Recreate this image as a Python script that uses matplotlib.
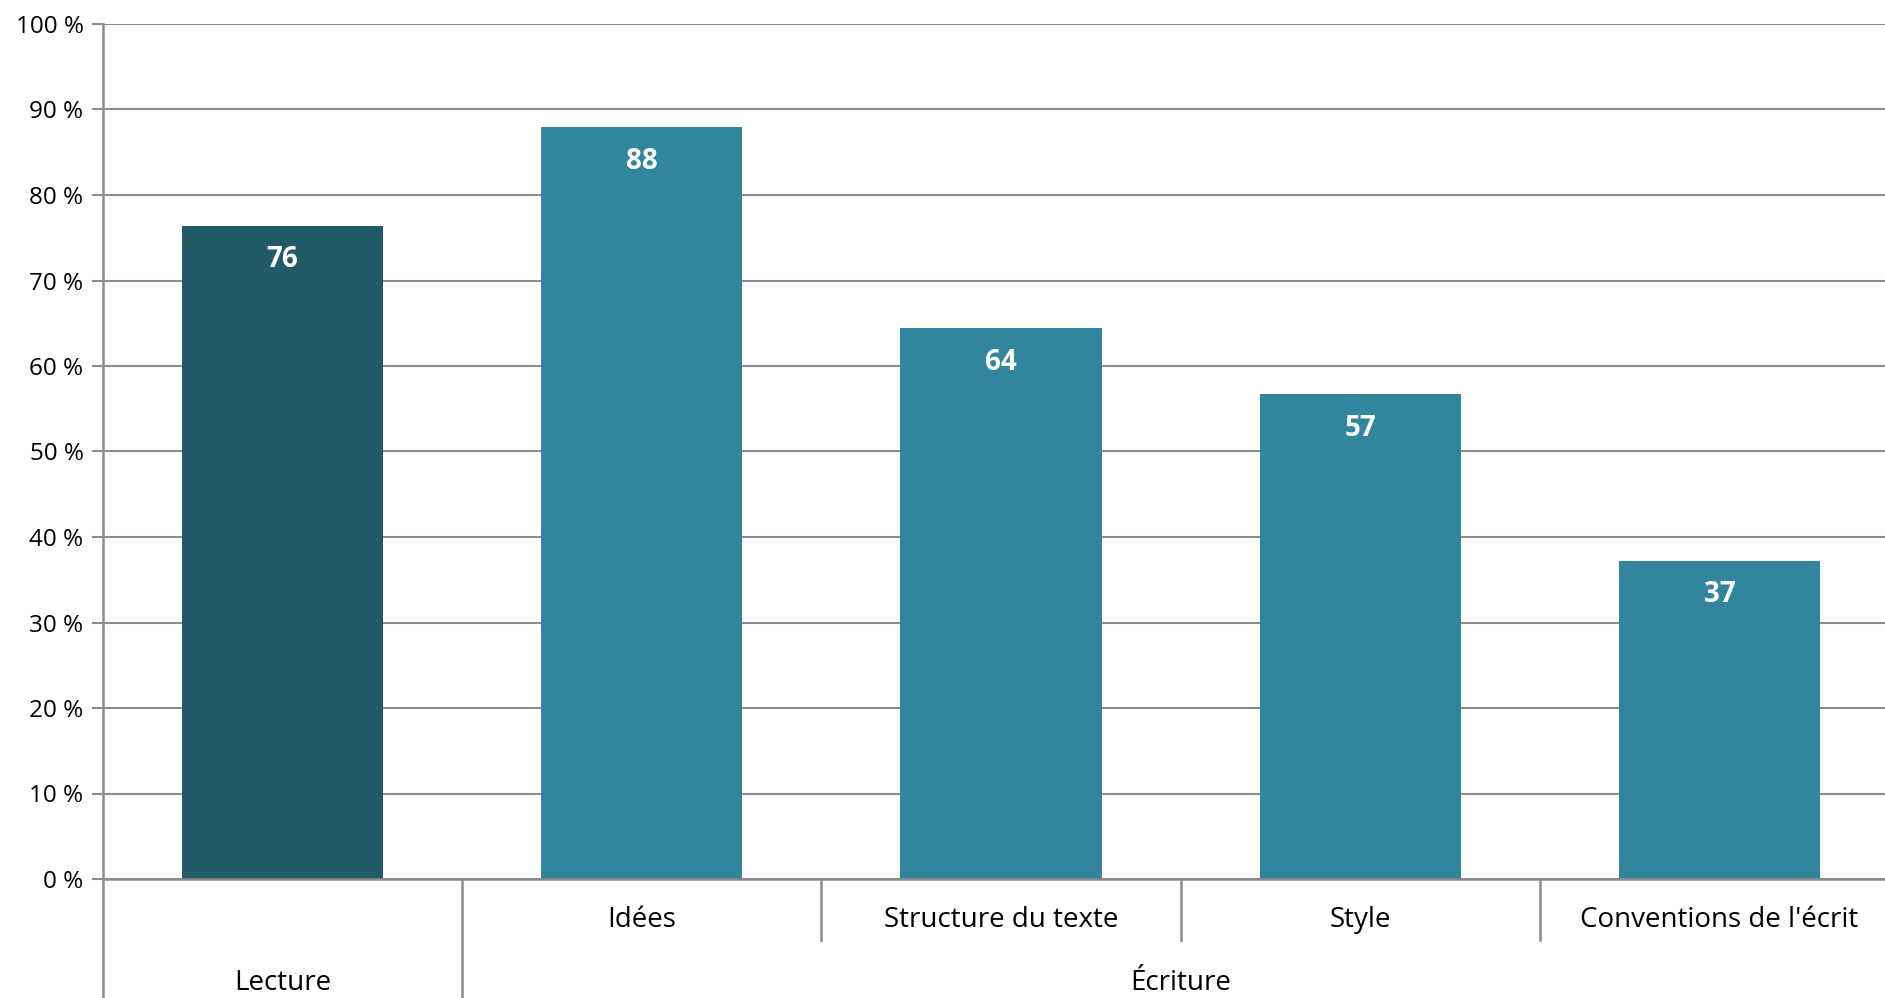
import matplotlib
matplotlib.use("Agg")
import matplotlib.pyplot as plt
from matplotlib.ticker import MultipleLocator, FuncFormatter

categories = ["", "Idées", "Structure du texte", "Style", "Conventions de l'écrit"]
groups = ["Lecture", "Écriture"]
group_spans = [(0, 0), (1, 4)]
values = [76.4, 87.9, 64.4, 56.7, 37.2]
labels = ["76", "88", "64", "57", "37"]
colors = ["#225a69", "#31869e", "#31869e", "#31869e", "#31869e"]

plt.rcParams['font.family'] = ['Open Sans', 'DejaVu Sans']

fig = plt.figure(figsize=(18.85, 9.98), dpi=100)
ax = fig.add_axes([103/1885, 119/998, 1796/1885, 855/998])

x = list(range(len(values)))
bars = ax.bar(x, values, width=0.56, color=colors, zorder=3)
for xi, v, lab in zip(x, values, labels):
    ax.annotate(lab, (xi, v), xytext=(0, -14), textcoords='offset points',
                ha='center', va='top', color='white', fontsize=20, fontweight='bold', zorder=4)

ax.set_xlim(-0.5, 4.5)
ax.set_ylim(0, 100)
ax.yaxis.set_major_locator(MultipleLocator(10))
ax.yaxis.set_major_formatter(FuncFormatter(lambda v, p: f"{int(v)} %"))
ax.grid(axis='y', color='#8c8c8c', linewidth=1.5, zorder=0)
ax.set_axisbelow(True)
for s in ['top', 'right', 'bottom', 'left']:
    ax.spines[s].set_visible(False)
ax.tick_params(axis='y', length=8, width=1.5, color='#8c8c8c', labelsize=17.5, pad=6)
ax.tick_params(axis='x', length=0, labelbottom=False)

grey = '#8c8c8c'
trans = ax.get_xaxis_transform()
# x axis line
ax.plot([-0.5, 4.5], [0, 0], transform=trans, color=grey, lw=1.8, clip_on=False, zorder=5)
# y axis line extends to bottom
ax.plot([-0.5, -0.5], [-0.14, 1.0], transform=trans, color=grey, lw=1.8, clip_on=False, zorder=5)
# group separators
for (a, b) in group_spans[:-1]:
    ax.plot([b + 0.5, b + 0.5], [-0.14, 0], transform=trans, color=grey, lw=1.8, clip_on=False)
# subcategory separators
for xs in [1.5, 2.5, 3.5]:
    ax.plot([xs, xs], [-0.0713, 0], transform=trans, color=grey, lw=1.8, clip_on=False)

for xi, c in zip(x, categories):
    if c:
        ax.text(xi, -0.048, c, transform=trans, ha='center', va='center', fontsize=20)
for g, (a, b) in zip(groups, group_spans):
    ax.text((a + b) / 2, -0.1215, g, transform=trans, ha='center', va='center', fontsize=20)

fig.savefig("out.png", dpi=100)
